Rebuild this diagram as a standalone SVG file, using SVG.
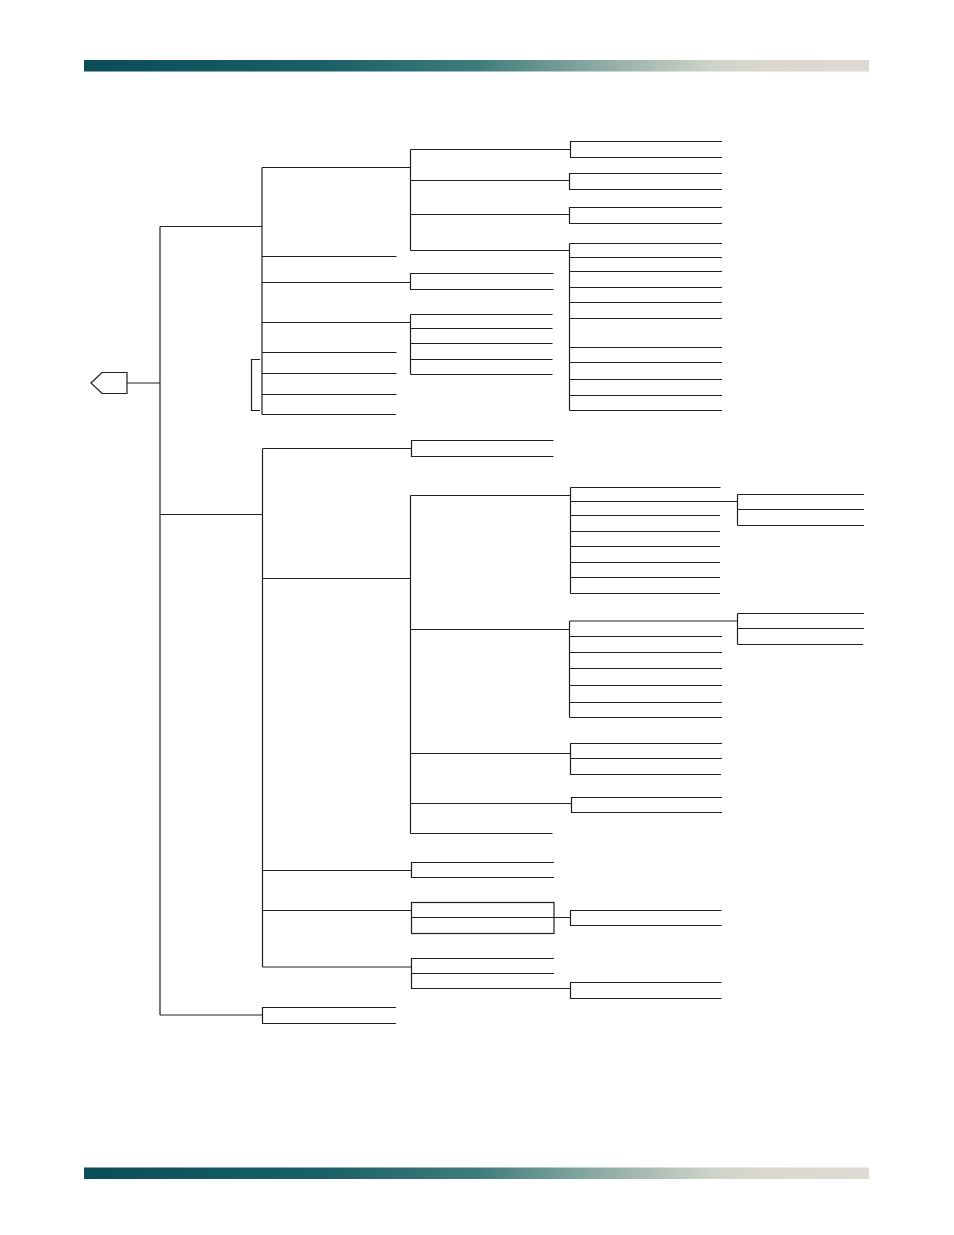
<svg xmlns="http://www.w3.org/2000/svg" width="954" height="1235" viewBox="0 0 954 1235">
<defs>
<linearGradient id="bar" x1="0" y1="0" x2="1" y2="0">
<stop offset="0" stop-color="#0a4d57"/>
<stop offset="0.3" stop-color="#1a5f66"/>
<stop offset="0.5" stop-color="#3d7c7c"/>
<stop offset="0.65" stop-color="#8aa9a2"/>
<stop offset="0.8" stop-color="#cfd3c9"/>
<stop offset="0.88" stop-color="#dcd8d0"/>
<stop offset="1" stop-color="#dedad3"/>
</linearGradient>
<style>
.ln{fill:none;stroke:#231f20;stroke-width:1.2;}
</style>
</defs>
<rect width="954" height="1235" fill="#ffffff"/>
<rect x="84" y="60" width="785" height="11.5" fill="url(#bar)"/>
<rect x="84" y="1167.5" width="785" height="11.5" fill="url(#bar)"/>

<g id="root">
<polygon class="ln" points="91,383 102,372.5 127,372.5 127,393.5 102,393.5"/>
</g>

<g id="connectors">
<path class="ln" d="M127 383H160 M160 226.5V1015 M160 226.5H262 M160 514.5H262.5 M160 1015H262.5"/>
</g>

<g id="branch-a">
<path class="ln" d="M262 167.5V414.5 M262 167.5H410.5 M262 256.5H396.5 M262 282.5H410.5 M262 322.5H410.5 M262 352.5H396.5 M262 373.5H396.5 M262 394.5H396.5 M262 414.5H396 M260 359.5H251.5V410.5H260"/>
</g>

<g id="a1">
<path class="ln" d="M410.5 149.5V250.5 M410.5 149.5H570.5 M410.5 180.5H569.5 M410.5 214.5H569.5 M410.5 250.5H569.5"/>
<path class="ln" d="M722 141.5H570.5V157.5H722 M722 173.5H569.5V189.5H722 M722 207.5H569.5V223.5H722"/>
<path class="ln" d="M569.5 243.5V410.5 M569.5 243.5H722 M569.5 257.5H722 M569.5 271.5H722 M569.5 287.5H722 M569.5 302.5H722 M569.5 318.5H722 M569.5 347.5H722 M569.5 362.5H722 M569.5 379.5H722 M569.5 395.5H722 M569.5 410.5H722"/>
</g>

<g id="a2">
<path class="ln" d="M553.5 273.5H410.5V289.5H553.5"/>
</g>

<g id="a3">
<path class="ln" d="M410.5 314.5V374.5 M410.5 314.5H552.5 M410.5 328.5H552.5 M410.5 343.5H552.5 M410.5 359.5H552.5 M410.5 374.5H552.5"/>
</g>

<g id="branch-b">
<path class="ln" d="M262.5 448.5V967 M262.5 448.5H411.5 M262.5 578.5H410.5 M262.5 870.5H411.5 M262.5 910.5H411.5 M262.5 967H411.5"/>
</g>

<g id="b1">
<path class="ln" d="M553.5 440.5H411.5V456.5H553.5"/>
</g>

<g id="b2">
<path class="ln" d="M410.5 495.5V833.5 M410.5 495.5H570.5 M410.5 629.5H569.5 M410.5 753.5H570.5 M410.5 803.5H571.5 M410.5 833.5H552.5"/>
<path class="ln" d="M570.5 487.5V593.5 M570.5 487.5H720.5 M570.5 501.5H737.5 M570.5 515.5H720 M570.5 531.5H720 M570.5 546.5H720 M570.5 562.5H720 M570.5 577.5H720 M570.5 593.5H720"/>
<path class="ln" d="M737.5 494.5V525.5 M737.5 494.5H864 M737.5 509.5H864 M737.5 525.5H864"/>
<path class="ln" d="M569.5 621V717.5 M569.5 621H737.5 M569.5 636.5H722 M569.5 652.5H722 M569.5 668.5H722 M569.5 685.5H722 M569.5 702.5H722 M569.5 717.5H722"/>
<path class="ln" d="M737.5 613.5V644.5 M737.5 613.5H864 M737.5 628.5H864 M737.5 644.5H863"/>
<path class="ln" d="M722 743.5H570.5V774.5H721 M570.5 758.5H722"/>
<path class="ln" d="M722 797.5H571.5V812.5H722"/>
</g>

<g id="b3">
<path class="ln" d="M554 862.5H411.5V877.5H554"/>
</g>

<g id="b4">
<rect class="ln" x="411.5" y="902.5" width="142.5" height="31"/>
<path class="ln" d="M411.5 917.5H570.5 M721.5 910.5H570.5V925.5H721.5"/>
</g>

<g id="b5">
<path class="ln" d="M554 958.5H411.5V988.5H570.5 M411.5 973.5H554 M721.5 982.5H570.5V998.5H721.5"/>
</g>

<g id="branch-c">
<path class="ln" d="M396 1007.5H262.5V1023.5H396"/>
</g>
</svg>
